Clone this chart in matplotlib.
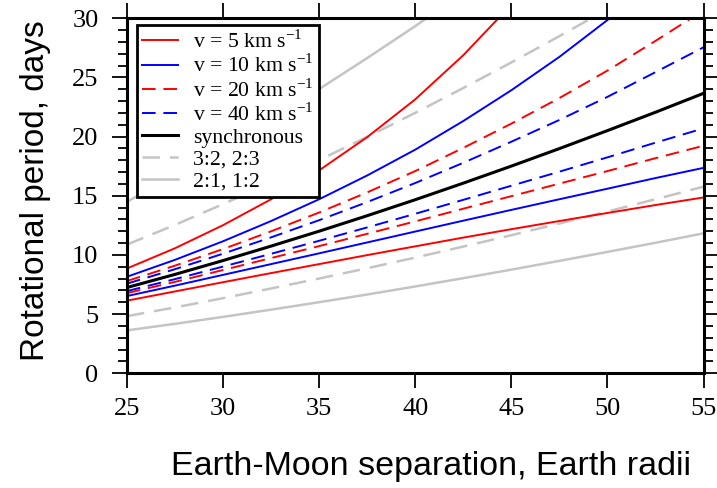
import matplotlib
matplotlib.use("Agg")
import matplotlib.pyplot as plt
from matplotlib.ticker import MultipleLocator

# =====================================================
# DATA
# =====================================================

separation = [25, 27.5, 30, 32.5, 35, 37.5, 40, 42.5, 45, 47.5, 50, 52.5, 55]

synchronous = [7.25, 8.36, 9.53, 10.75, 12.01, 13.32, 14.67, 16.07, 17.51,
               18.99, 20.51, 22.06, 23.66]

v5_upper = [8.86, 10.57, 12.52, 14.71, 17.15, 19.96, 23.15, 26.88, 31.15]
v5_lower = [6.14, 6.92, 7.70, 8.47, 9.23, 9.99, 10.73, 11.47, 12.18, 12.87,
            13.55, 14.22, 14.86]
v10_upper = [8.16, 9.59, 11.16, 12.87, 14.71, 16.72, 18.90, 21.32, 23.92,
             26.74, 29.85, 33.30]
v10_lower = [6.53, 7.41, 8.32, 9.23, 10.14, 11.06, 11.98, 12.90, 13.81,
             14.71, 15.60, 16.50, 17.36]
v20_upper = [7.80, 9.10, 10.50, 12.00, 13.59, 15.29, 17.09, 19.05, 21.10,
             23.26, 25.58, 28.09, 30.67]
v20_lower = [6.78, 7.73, 8.73, 9.74, 10.75, 11.79, 12.84, 13.91, 14.97,
             16.03, 17.09, 18.18, 19.23]
v40_upper = [7.58, 8.80, 10.11, 11.49, 12.94, 14.47, 16.08, 17.79, 19.57,
             21.41, 23.36, 25.45, 27.55]
v40_lower = [6.95, 7.96, 9.02, 10.10, 11.20, 12.33, 13.48, 14.66, 15.85,
             17.04, 18.25, 19.49, 20.70]

res32_upper = [10.88, 12.54, 14.30, 16.13, 18.02, 19.98, 22.01, 24.11, 26.27,
               28.49, 30.77]
res32_lower = [4.83, 5.57, 6.35, 7.17, 8.01, 8.88, 9.78, 10.71, 11.67, 12.66,
               13.67, 14.71, 15.77]
res21_upper = [14.50, 16.72, 19.06, 21.50, 24.02, 26.64, 29.34, 32.14]
res21_lower = [3.63, 4.18, 4.77, 5.38, 6.01, 6.66, 7.34, 8.04, 8.76, 9.50,
               10.26, 11.03, 11.83]

x_ticks = [25, 30, 35, 40, 45, 50, 55]
y_ticks = [0, 5, 10, 15, 20, 25, 30]

RED = "#ff0000"
BLUE = "#0000ff"
GRAY = "#c4c4c4"
DASH = (0, (7, 4))

SERIF = ["Liberation Serif", "DejaVu Serif"]
SANS = ["Liberation Sans", "DejaVu Sans"]

plt.rcParams["font.family"] = SERIF
plt.rcParams["mathtext.fontset"] = "custom"
plt.rcParams["mathtext.rm"] = "Liberation Serif"


def xs(values):
    return separation[:len(values)]


# =====================================================
# FIGURE
# =====================================================

fig = plt.figure(figsize=(7.17, 4.88), dpi=100)
ax = fig.add_axes([0.1771, 0.235, 0.8041, 0.7275])

# gray resonance lines
ax.plot(xs(res21_upper), res21_upper, color=GRAY, lw=1.8)
ax.plot(xs(res21_lower), res21_lower, color=GRAY, lw=1.8)
ax.plot(xs(res32_upper), res32_upper, color=GRAY, lw=1.8, ls=DASH)
ax.plot(xs(res32_lower), res32_lower, color=GRAY, lw=1.8, ls=DASH)

# velocity lines
ax.plot(xs(v40_upper), v40_upper, color=BLUE, lw=1.4, ls=DASH)
ax.plot(xs(v40_lower), v40_lower, color=BLUE, lw=1.4, ls=DASH)
ax.plot(xs(v20_upper), v20_upper, color=RED, lw=1.4, ls=DASH)
ax.plot(xs(v20_lower), v20_lower, color=RED, lw=1.4, ls=DASH)
ax.plot(xs(v10_upper), v10_upper, color=BLUE, lw=1.4)
ax.plot(xs(v10_lower), v10_lower, color=BLUE, lw=1.4)
ax.plot(xs(v5_upper), v5_upper, color=RED, lw=1.4)
ax.plot(xs(v5_lower), v5_lower, color=RED, lw=1.4)

ax.plot(separation, synchronous, color="black", lw=2.2)

# legend proxies
handles = [
    plt.Line2D([], [], color=RED, lw=1.4),
    plt.Line2D([], [], color=BLUE, lw=1.4),
    plt.Line2D([], [], color=RED, lw=1.4, ls=DASH),
    plt.Line2D([], [], color=BLUE, lw=1.4, ls=DASH),
    plt.Line2D([], [], color="black", lw=2.2),
    plt.Line2D([], [], color=GRAY, lw=1.8, ls=DASH),
    plt.Line2D([], [], color=GRAY, lw=1.8),
]
labels = [
    r"v = 5 km s$^{\mathregular{-1}}$",
    r"v = 10 km s$^{\mathregular{-1}}$",
    r"v = 20 km s$^{\mathregular{-1}}$",
    r"v = 40 km s$^{\mathregular{-1}}$",
    "synchronous",
    "3:2, 2:3",
    "2:1, 1:2",
]
leg = ax.legend(
    handles, labels,
    loc="upper left",
    bbox_to_anchor=(0.017, 0.98),
    borderaxespad=0,
    prop={"family": SERIF, "size": 15.7},
    handlelength=1.65,
    handletextpad=0.72,
    labelspacing=0.08,
    borderpad=0.22,
    fancybox=False,
    framealpha=1,
    edgecolor="black",
)
leg.get_frame().set_linewidth(2.0)

# =====================================================
# AXES
# =====================================================

ax.set_xlim(25, 55)
ax.set_ylim(0, 30)
ax.set_xticks(x_ticks)
ax.set_yticks(y_ticks)
ax.yaxis.set_minor_locator(MultipleLocator(1))

for spine in ax.spines.values():
    spine.set_linewidth(2.2)

ax.tick_params(which="both", direction="out", top=True, right=True,
               labeltop=False, labelright=False, width=1.3,
               labelsize=19)
ax.tick_params(which="major", length=10.5)
ax.tick_params(which="minor", length=6.5)
ax.tick_params(axis="x", which="major", pad=7.5)
ax.tick_params(axis="y", which="major", pad=10)

fig.text(431 / 717, 1 - 467 / 488, "Earth-Moon separation, Earth radii",
         family=SANS, fontsize=24.5, ha="center", va="center")
fig.text(36 / 717, 1 - 190.5 / 488, "Rotational period, days",
         family=SANS, fontsize=24, rotation=90, ha="center", va="center")

fig.savefig("out.png", dpi=100)
